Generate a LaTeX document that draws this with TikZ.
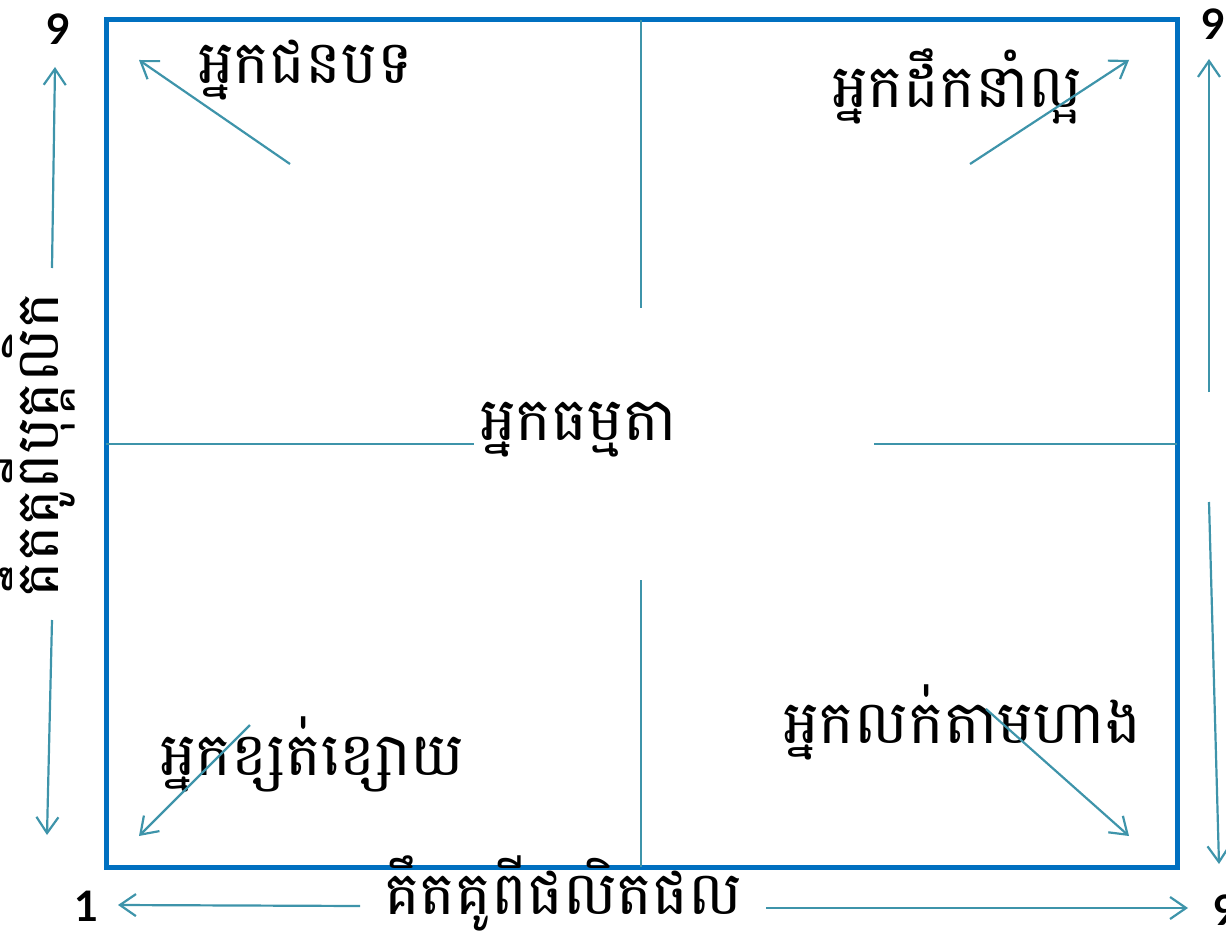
\documentclass[tikz,border=0pt]{standalone}
\usepackage{fontspec}
\newfontfamily\kh[Script=Khmer]{Battambang}
\newfontfamily\numf{Lato}
\usetikzlibrary{arrows.meta}
\definecolor{frameblue}{RGB}{0,112,192}
\definecolor{axisteal}{RGB}{62,148,170}
\tikzset{
  kht/.style={inner sep=0pt, font=\kh\fontsize{60}{68}\selectfont, text=black},
  numt/.style={inner sep=0pt, font=\numf\bfseries\fontsize{42}{48}\selectfont, text=black},
  axarrow/.style={draw=axisteal, line width=2.2pt, -{Straight Barb[length=16pt,width=22pt,line width=2.2pt]}},
  divline/.style={draw=axisteal, line width=1.4pt},
}
\begin{document}
\begin{tikzpicture}[x=1pt,y=-1pt]
\useasboundingbox (0,0) rectangle (1226,931);
% frame
\coordinate (NW) at (106,20);
\coordinate (SE) at (1177,867);
\draw[frameblue, line width=5pt, line join=miter] (NW) rectangle (SE);
% divider lines
\coordinate (vt1) at (641,20);  \coordinate (vt2) at (641,308);
\coordinate (vb1) at (641,580); \coordinate (vb2) at (641,867);
\coordinate (hl1) at (106,444); \coordinate (hl2) at (474,444);
\coordinate (hr1) at (874,444); \coordinate (hr2) at (1177,444);
\draw[divline] (vt1) -- (vt2);
\draw[divline] (vb1) -- (vb2);
\draw[divline] (hl1) -- (hl2);
\draw[divline] (hr1) -- (hr2);
% texts
\node[kht, anchor=base west] (tl) at (198,84) {អ្នកជនបទ};
\node[kht, anchor=base west] (tr) at (832,108) {អ្នកដឹកនាំល្អ};
\node[kht, anchor=base west] (ct) at (480,440) {អ្នកធម្មតា};
\node[kht, anchor=base west] (bl) at (160,775) {អ្នកខ្សត់ខ្សោយ};
\node[kht, anchor=base west] (br) at (783,743) {អ្នកលក់តាមហាង};
\node[kht, anchor=base west] (bx) at (384,914) {គឹតគូពីផលិតផល};
\node[kht, anchor=base, rotate=90] (lx) at (58,445) {គឹតគូពីបុគ្គលិក};
% numbers
\node[numt] (n1) at (59,29) {9};
\node[numt] (n2) at (1214,24) {9};
\node[numt] (n3) at (87,906) {1};
\node[numt] (n4) at (1226,910) {9};
% diagonal arrows
\coordinate (a1s) at (290,164); \coordinate (a1e) at (139,60);
\coordinate (a2s) at (970,164); \coordinate (a2e) at (1129,60);
\coordinate (a3s) at (250,725); \coordinate (a3e) at (139,836);
\coordinate (a4s) at (986,709); \coordinate (a4e) at (1129,836);
\draw[axarrow] (a1s) -- (a1e);
\draw[axarrow] (a2s) -- (a2e);
\draw[axarrow] (a3s) -- (a3e);
\draw[axarrow] (a4s) -- (a4e);
% axis arrows
\coordinate (l1s) at (52,268); \coordinate (l1e) at (55,67);
\coordinate (l2s) at (52,620); \coordinate (l2e) at (47,835);
\coordinate (b1s) at (360,906); \coordinate (b1e) at (118,905);
\coordinate (b2s) at (766,908); \coordinate (b2e) at (1188,908);
\coordinate (r1s) at (1209,392); \coordinate (r1e) at (1209,59);
\coordinate (r2s) at (1209,502); \coordinate (r2e) at (1219,864);
\draw[axarrow] (l1s) -- (l1e);
\draw[axarrow] (l2s) -- (l2e);
\draw[axarrow] (b1s) -- (b1e);
\draw[axarrow] (b2s) -- (b2e);
\draw[axarrow] (r1s) -- (r1e);
\draw[axarrow] (r2s) -- (r2e);
\end{tikzpicture}
\end{document}
